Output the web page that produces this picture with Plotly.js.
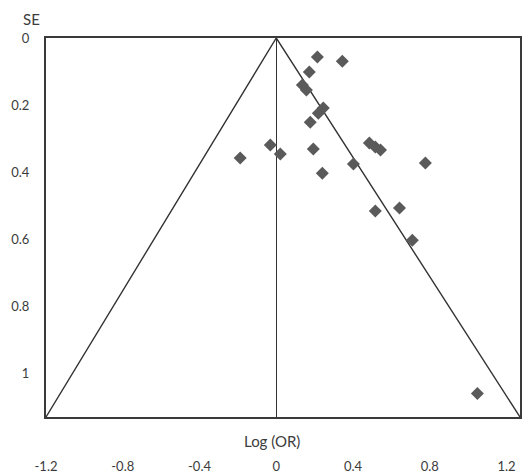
<!DOCTYPE html>
<html>
<head>
<meta charset="utf-8">
<script src="https://cdn.plot.ly/plotly-3.0.1.min.js"></script>
<style>
  html, body { margin: 0; padding: 0; background: #ffffff; }
  #chart { width: 522px; height: 473px; }
</style>
</head>
<body>
<div id="chart"></div>
<script>
// Study effects: log odds ratio and its standard error
const logOR = [0.214, 0.344, 0.172, 0.136, 0.157, 0.245, 0.219, 0.177, -0.031, 0.021,
               -0.188, 0.193, 0.240, 0.402, 0.485, 0.516, 0.543, 0.777, 0.516, 0.642,
               0.709, 1.048];
const stdErr = [0.057, 0.069, 0.101, 0.140, 0.155, 0.209, 0.224, 0.251, 0.319, 0.346,
                0.358, 0.331, 0.403, 0.376, 0.313, 0.325, 0.334, 0.373, 0.516, 0.507,
                0.603, 1.060];

// Funnel outline (apex at the pooled estimate)
const funnelX = [-1.2, 0, 1.27];
const funnelY = [1.13, 0, 1.13];

// Axis ticks
const xTicks = [-1.2, -0.8, -0.4, 0, 0.4, 0.8, 1.2];
const yTicks = [0, 0.2, 0.4, 0.6, 0.8, 1];

const font = "Lato, 'Liberation Sans', sans-serif";
const textColor = '#3c3c3c';

const traces = [
  {
    x: funnelX, y: funnelY, type: 'scatter', mode: 'lines',
    line: { color: '#333333', width: 1.4 },
    hoverinfo: 'skip', showlegend: false
  },
  {
    x: logOR, y: stdErr, type: 'scatter', mode: 'markers',
    marker: { symbol: 'diamond', size: 10, color: '#5a5a5a' },
    showlegend: false
  }
];

const layout = {
  width: 522, height: 473,
  margin: { l: 46, r: 2, t: 38, b: 56 },
  paper_bgcolor: '#ffffff', plot_bgcolor: '#ffffff',
  font: { family: font, size: 13, color: textColor },
  xaxis: {
    range: [-1.2, 1.27],
    tickvals: xTicks,
    ticktext: xTicks.map(String),
    showgrid: false,
    zeroline: true, zerolinecolor: '#333333', zerolinewidth: 1.5,
    showline: true, mirror: true, linecolor: '#3a3a3a', linewidth: 2,
    ticks: '',
    ticklabelstandoff: 36,
    tickfont: { family: font, size: 13, color: textColor }
  },
  yaxis: {
    range: [1.13, 0],
    tickvals: yTicks,
    ticktext: yTicks.map(String),
    showgrid: false,
    zeroline: false,
    showline: true, mirror: true, linecolor: '#3a3a3a', linewidth: 2,
    ticks: '',
    ticklabelstandoff: 12,
    tickfont: { family: font, size: 13, color: textColor }
  },
  annotations: [
    {
      text: 'SE', xref: 'paper', yref: 'paper', x: -0.03, y: 1.0,
      xanchor: 'center', yanchor: 'bottom', yshift: 8, showarrow: false,
      font: { family: font, size: 15, color: textColor }
    },
    {
      text: 'Log (OR)', x: -0.02, xref: 'x', yref: 'paper', y: 0,
      xanchor: 'center', yanchor: 'top', yshift: -13, showarrow: false,
      font: { family: font, size: 15, color: textColor }
    }
  ]
};

Plotly.newPlot('chart', traces, layout, { displayModeBar: false, staticPlot: true });
</script>
</body>
</html>
